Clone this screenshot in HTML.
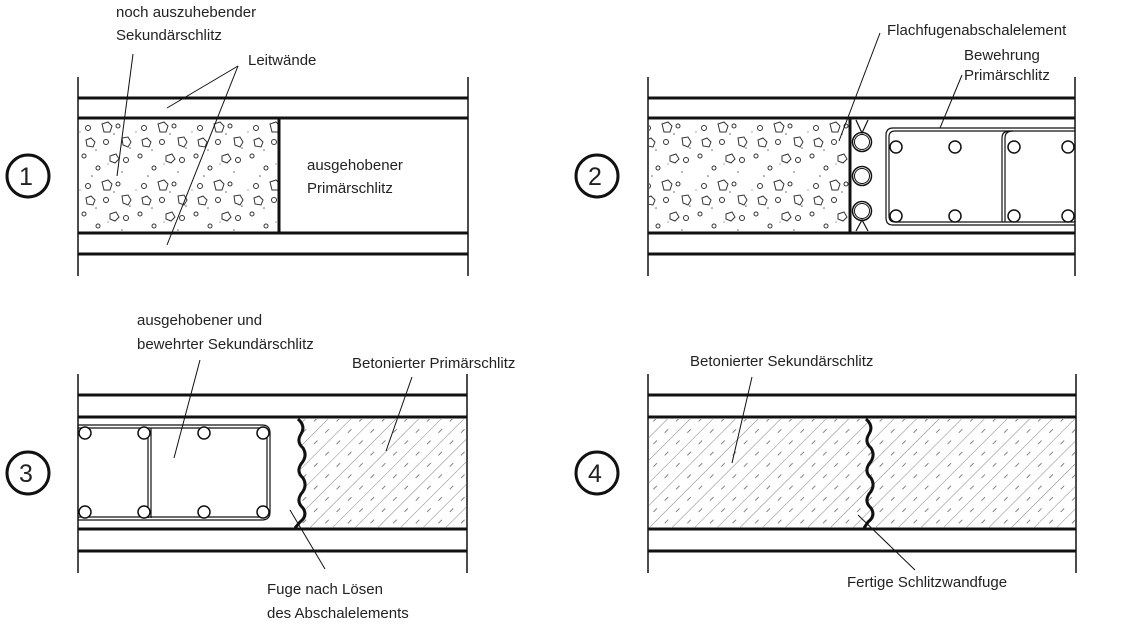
<!DOCTYPE html>
<html><head><meta charset="utf-8"><style>
html,body{margin:0;padding:0;background:#fff;width:1130px;height:627px;overflow:hidden}
text{font-family:"Liberation Sans",sans-serif;font-size:15px;fill:#222}
</style></head><body>
<svg width="1130" height="627" viewBox="0 0 1130 627" xmlns="http://www.w3.org/2000/svg">
<defs>
<pattern id="conc" width="56" height="58" patternUnits="userSpaceOnUse" x="78" y="120">
<g fill="none" stroke="#333" stroke-width="1">
<circle cx="10" cy="8" r="2.5"/><circle cx="40" cy="6" r="2"/><circle cx="28" cy="22" r="2.5"/><circle cx="6" cy="36" r="2"/><circle cx="48" cy="40" r="2.5"/><circle cx="20" cy="48" r="2"/>
<path d="M24 4 l6 -2 l4 4 l-2 6 l-6 0 z"/><path d="M44 18 l6 -1 l3 5 l-3 5 l-5 -2 z"/><path d="M8 20 l5 -2 l4 4 l-2 5 l-6 -1 z"/><path d="M32 36 l6 -2 l3 5 l-4 4 l-5 -2 z"/>
</g>
<g fill="#666"><circle cx="18" cy="30" r="0.8"/><circle cx="36" cy="14" r="0.8"/><circle cx="52" cy="28" r="0.8"/><circle cx="14" cy="56" r="0.8"/><circle cx="44" cy="52" r="0.8"/><circle cx="2" cy="12" r="0.6"/><circle cx="30" cy="44" r="0.6"/></g>
</pattern>
<pattern id="hatch" width="16" height="16" patternUnits="userSpaceOnUse" patternTransform="rotate(-45)">
<line x1="0" y1="0" x2="16" y2="0" stroke="#666" stroke-width="0.8"/>
<line x1="4" y1="8" x2="9" y2="8" stroke="#666" stroke-width="0.8"/>
</pattern>
</defs>

<g stroke="#111" fill="none">
<!-- Panel 1 -->
<line x1="78" y1="77" x2="78" y2="276" stroke-width="1.5"/><line x1="468" y1="77" x2="468" y2="276" stroke-width="1.5"/>
<line x1="78" y1="98" x2="468" y2="98" stroke-width="3"/><line x1="78" y1="118" x2="468" y2="118" stroke-width="3"/>
<line x1="78" y1="233" x2="468" y2="233" stroke-width="3"/><line x1="78" y1="254" x2="468" y2="254" stroke-width="3"/>
<rect x="79" y="120" width="199" height="112" fill="url(#conc)" stroke="none"/>
<line x1="279" y1="118" x2="279" y2="233" stroke-width="3"/>

<!-- Panel 2 -->
<line x1="648" y1="77" x2="648" y2="276" stroke-width="1.5"/><line x1="1075" y1="77" x2="1075" y2="276" stroke-width="1.5"/>
<line x1="648" y1="98" x2="1075" y2="98" stroke-width="3"/><line x1="648" y1="118" x2="1075" y2="118" stroke-width="3"/>
<line x1="648" y1="233" x2="1075" y2="233" stroke-width="3"/><line x1="648" y1="254" x2="1075" y2="254" stroke-width="3"/>
<rect x="649" y="120" width="200" height="112" fill="url(#conc)" stroke="none"/>
<line x1="850" y1="118" x2="850" y2="233" stroke-width="3"/>
<path d="M856 120 L862 133 L868 120 M856 231 L862 220 L868 231" stroke-width="1.2"/>
<circle cx="862" cy="142" r="9.5" stroke-width="1.5"/><circle cx="862" cy="142" r="7.5" stroke-width="1"/>
<circle cx="862" cy="176" r="9.5" stroke-width="1.5"/><circle cx="862" cy="176" r="7.5" stroke-width="1"/>
<circle cx="862" cy="211" r="9.5" stroke-width="1.5"/><circle cx="862" cy="211" r="7.5" stroke-width="1"/>
<path d="M1075 128 L893 128 Q886 128 886 135 L886 218 Q886 225 893 225 L1075 225" stroke-width="1.2"/>
<path d="M1075 131 L895 131 Q889 131 889 137 L889 216 Q889 222 895 222 L1075 222" stroke-width="1.2"/>
<path d="M1010 131 Q1002 131 1002 138 L1002 222 M1013 131 Q1005 131 1005 138 L1005 222" stroke-width="1.2"/>
<g stroke-width="1.5" fill="#fff">
<circle cx="896" cy="147" r="6"/><circle cx="955" cy="147" r="6"/><circle cx="1014" cy="147" r="6"/><circle cx="1068" cy="147" r="6"/>
<circle cx="896" cy="216" r="6"/><circle cx="955" cy="216" r="6"/><circle cx="1014" cy="216" r="6"/><circle cx="1068" cy="216" r="6"/>
</g>

<!-- Panel 3 -->
<line x1="78" y1="374" x2="78" y2="573" stroke-width="1.5"/><line x1="467" y1="374" x2="467" y2="573" stroke-width="1.5"/>
<line x1="78" y1="395" x2="467" y2="395" stroke-width="3"/><line x1="78" y1="417" x2="467" y2="417" stroke-width="3"/>
<line x1="78" y1="529" x2="467" y2="529" stroke-width="3"/><line x1="78" y1="551" x2="467" y2="551" stroke-width="3"/>
<path d="M298 419 Q306 426 301 434 Q296 442 303 448 Q308 456 301 464 Q296 472 303 478 Q308 486 301 494 Q296 502 303 508 Q308 516 300 522 L295 528 L467 528 L467 419 Z" fill="url(#hatch)" stroke="none"/>
<path d="M298 419 Q306 426 301 434 Q296 442 303 448 Q308 456 301 464 Q296 472 303 478 Q308 486 301 494 Q296 502 303 508 Q308 516 300 522 L295 528" stroke-width="3"/>
<path d="M78 425 L262 425 Q270 425 270 433 L270 512 Q270 520 262 520 L78 520" stroke-width="1.2"/>
<path d="M78 428 L260 428 Q267 428 267 435 L267 510 Q267 517 260 517 L78 517" stroke-width="1.2"/>
<path d="M148 428 L148 518 M151 428 L151 518" stroke-width="1.2"/>
<g stroke-width="1.5" fill="#fff">
<circle cx="85" cy="433" r="6"/><circle cx="144" cy="433" r="6"/><circle cx="204" cy="433" r="6"/><circle cx="263" cy="433" r="6"/>
<circle cx="85" cy="512" r="6"/><circle cx="144" cy="512" r="6"/><circle cx="204" cy="512" r="6"/><circle cx="263" cy="512" r="6"/>
</g>

<!-- Panel 4 -->
<line x1="648" y1="374" x2="648" y2="573" stroke-width="1.5"/><line x1="1076" y1="374" x2="1076" y2="573" stroke-width="1.5"/>
<line x1="648" y1="395" x2="1076" y2="395" stroke-width="3"/><line x1="648" y1="417" x2="1076" y2="417" stroke-width="3"/>
<line x1="648" y1="529" x2="1076" y2="529" stroke-width="3"/><line x1="648" y1="551" x2="1076" y2="551" stroke-width="3"/>
<rect x="649" y="419" width="426" height="109" fill="url(#hatch)" stroke="none"/>
<path d="M866 419 Q874 426 869 434 Q864 442 871 448 Q876 456 869 464 Q864 472 871 478 Q876 486 869 494 Q864 502 871 508 Q876 516 868 522 L864 528" stroke-width="3"/>

<!-- number circles -->
<g stroke-width="3"><circle cx="28" cy="176" r="21"/><circle cx="597" cy="176" r="21"/><circle cx="28" cy="473" r="21"/><circle cx="597" cy="473" r="21"/></g>

<!-- leader lines -->
<g stroke-width="1">
<line x1="133" y1="54" x2="117" y2="176"/>
<line x1="238" y1="66" x2="167" y2="108"/><line x1="238" y1="66" x2="167" y2="245"/>
<line x1="880" y1="33" x2="839" y2="141"/>
<line x1="962" y1="75" x2="940" y2="128"/>
<line x1="200" y1="360" x2="174" y2="458"/>
<line x1="412" y1="377" x2="386" y2="451"/>
<line x1="290" y1="510" x2="325" y2="569"/>
<line x1="752" y1="377" x2="732" y2="463"/>
<line x1="858" y1="515" x2="915" y2="570"/>
</g>
</g>

<g>
<text x="19" y="185" style="font-size:25px">1</text>
<text x="588" y="185" style="font-size:25px">2</text>
<text x="19" y="482" style="font-size:25px">3</text>
<text x="588" y="482" style="font-size:25px">4</text>
<text x="116" y="17">noch auszuhebender</text>
<text x="116" y="40">Sekundärschlitz</text>
<text x="248" y="65">Leitwände</text>
<text x="307" y="170">ausgehobener</text>
<text x="307" y="193">Primärschlitz</text>
<text x="887" y="35">Flachfugenabschalelement</text>
<text x="964" y="60">Bewehrung</text>
<text x="964" y="80">Primärschlitz</text>
<text x="137" y="325">ausgehobener und</text>
<text x="137" y="349">bewehrter Sekundärschlitz</text>
<text x="352" y="368">Betonierter Primärschlitz</text>
<text x="267" y="594">Fuge nach Lösen</text>
<text x="267" y="618">des Abschalelements</text>
<text x="690" y="366">Betonierter Sekundärschlitz</text>
<text x="847" y="587">Fertige Schlitzwandfuge</text>
</g>
</svg>
</body></html>
